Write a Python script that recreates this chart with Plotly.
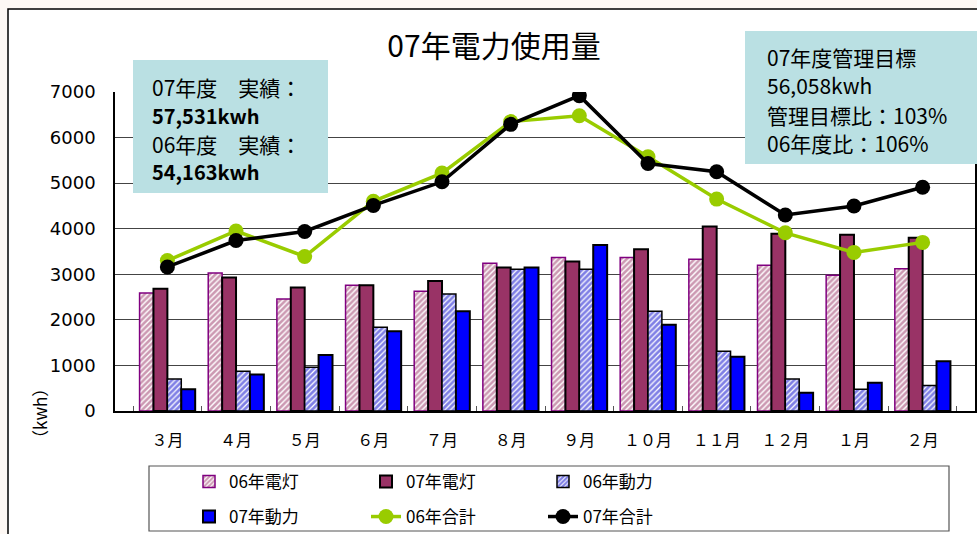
import plotly.graph_objects as go

# 月（横軸）
meses = ["３月", "４月", "５月", "６月", "７月", "８月", "９月", "１０月", "１１月", "１２月", "１月", "２月"]

# 電灯・動力 (kwh)
dento_06 = [2590, 3030, 2460, 2760, 2630, 3240, 3370, 3370, 3330, 3200, 2980, 3120]
dento_07 = [2680, 2930, 2710, 2760, 2850, 3150, 3280, 3550, 4050, 3890, 3870, 3800]
doryoku_06 = [700, 870, 960, 1840, 2570, 3110, 3110, 2190, 1310, 700, 480, 560]
doryoku_07 = [480, 800, 1230, 1750, 2190, 3150, 3640, 1890, 1190, 400, 620, 1090]

# 合計 (kwh)
gokei_06 = [3300, 3950, 3390, 4600, 5220, 6350, 6480, 5580, 4650, 3910, 3480, 3700]
gokei_07 = [3160, 3740, 3940, 4510, 5030, 6290, 6920, 5430, 5250, 4300, 4500, 4910]

FONT = "Noto Sans CJK JP"

# ピクセル → paper 座標 (plot area: x 115-975, y 92-411)
def px(x):
    return (x - 115) / 860

def py(y):
    return (411 - y) / 319

fig = go.Figure()

fig.add_trace(go.Bar(
    x=meses, y=dento_06, name="06年電灯", legend="legend",
    marker=dict(color="white", line=dict(color="#800080", width=1.5),
                pattern=dict(shape="/", fgcolor="#993366", bgcolor="white",
                             size=4, solidity=0.65)),
))
fig.add_trace(go.Bar(
    x=meses, y=dento_07, name="07年電灯", legend="legend",
    marker=dict(color="#993366", line=dict(color="black", width=2)),
))
fig.add_trace(go.Bar(
    x=meses, y=doryoku_06, name="06年動力", legend="legend",
    marker=dict(color="white", line=dict(color="black", width=1.5),
                pattern=dict(shape="/", fgcolor="#0000cc", bgcolor="white",
                             size=4, solidity=0.7)),
))
fig.add_trace(go.Bar(
    x=meses, y=doryoku_07, name="07年動力", legend="legend2",
    marker=dict(color="#0000FF", line=dict(color="black", width=2)),
))
fig.add_trace(go.Scatter(
    x=meses, y=gokei_06, name="06年合計", legend="legend2",
    mode="lines+markers",
    line=dict(color="#99CC00", width=3.5),
    marker=dict(size=15, color="#99CC00"),
))
fig.add_trace(go.Scatter(
    x=meses, y=gokei_07, name="07年合計", legend="legend2",
    mode="lines+markers",
    line=dict(color="black", width=3.5),
    marker=dict(size=15, color="black"),
))

# 枠・凡例ボックス・テキストボックス
shapes = [
    dict(type="rect", xref="paper", yref="paper", layer="below",
         x0=px(8), x1=1.3, y0=-0.8, y1=py(9),
         fillcolor="white", line=dict(color="black", width=1.5)),
    dict(type="rect", xref="paper", yref="paper",
         x0=px(149), x1=px(949), y0=py(531), y1=py(466),
         line=dict(color="#555555", width=1.2)),
    dict(type="rect", xref="paper", yref="paper", layer="above",
         x0=px(133), x1=px(328), y0=py(193), y1=py(60),
         fillcolor="#BAE0E3", line=dict(width=0)),
    dict(type="rect", xref="paper", yref="paper", layer="above",
         x0=px(745), x1=1.1, y0=py(164), y1=py(31),
         fillcolor="#BAE0E3", line=dict(width=0)),
]

izq = [("07年度　実績：", False, 86.7), ("57,531kwh", True, 115),
       ("06年度　実績：", False, 144), ("54,163kwh", True, 171.7)]
der = [("07年度管理目標", 57), ("56,058kwh", 85),
       ("管理目標比：103%", 115), ("06年度比：106%", 143)]

annotations = []
for texto, negrita, y in izq:
    annotations.append(dict(
        text=f"<b>{texto}</b>" if negrita else texto,
        xref="paper", yref="paper", x=px(150), y=py(y),
        xanchor="left", yanchor="middle", showarrow=False,
        font=dict(family=FONT, size=20 if negrita else 21, color="black"),
    ))
for texto, y in der:
    annotations.append(dict(
        text=texto, xref="paper", yref="paper", x=px(765), y=py(y),
        xanchor="left", yanchor="middle", showarrow=False,
        font=dict(family=FONT, size=21, color="black"),
    ))
annotations.append(dict(
    text="（kwh）", xref="paper", yref="paper", x=px(39), y=py(414),
    xanchor="center", yanchor="middle", textangle=-90, showarrow=False,
    font=dict(family=FONT, size=17, color="black"),
))

leyenda = dict(
    orientation="h", xanchor="left", yanchor="middle",
    bgcolor="rgba(0,0,0,0)", borderwidth=0, entrywidth=132,
    font=dict(family=FONT, size=17, color="black"),
    itemclick=False,
)

fig.update_layout(
    width=977, height=534,
    margin=dict(l=115, r=2, t=92, b=123, autoexpand=False),
    paper_bgcolor="#FDF8F4",
    plot_bgcolor="white",
    title=dict(text="07年電力使用量", x=494 / 977, y=1 - 46 / 534,
               xanchor="center", yanchor="middle",
               font=dict(family=FONT, size=30, color="black")),
    barmode="group", bargap=0.19, bargroupgap=0,
    showlegend=True,
    legend=dict(leyenda, x=px(189), y=py(482)),
    legend2=dict(leyenda, x=px(189), y=py(517)),
    shapes=shapes,
    annotations=annotations,
    font=dict(family=FONT, color="black"),
    xaxis=dict(
        showline=True, linecolor="black", linewidth=2,
        ticks="inside", tickson="boundaries", ticklen=5,
        tickcolor="#555555", ticklabelstandoff=14,
        tickfont=dict(family=FONT, size=16),
        showgrid=False,
    ),
    yaxis=dict(
        range=[0, 7000], dtick=1000, tickformat="d",
        showline=True, linecolor="black", linewidth=1.5, mirror=True,
        showgrid=True, gridcolor="#444444", gridwidth=1,
        ticks="", ticklabelstandoff=14,
        tickfont=dict(family="DejaVu Sans", size=18),
        zeroline=False,
    ),
)

# ページ余白をなくし、モードバーを隠す
fig.write_html("out.html", config={"displayModeBar": False},
               post_script="document.body.style.margin='0';")
